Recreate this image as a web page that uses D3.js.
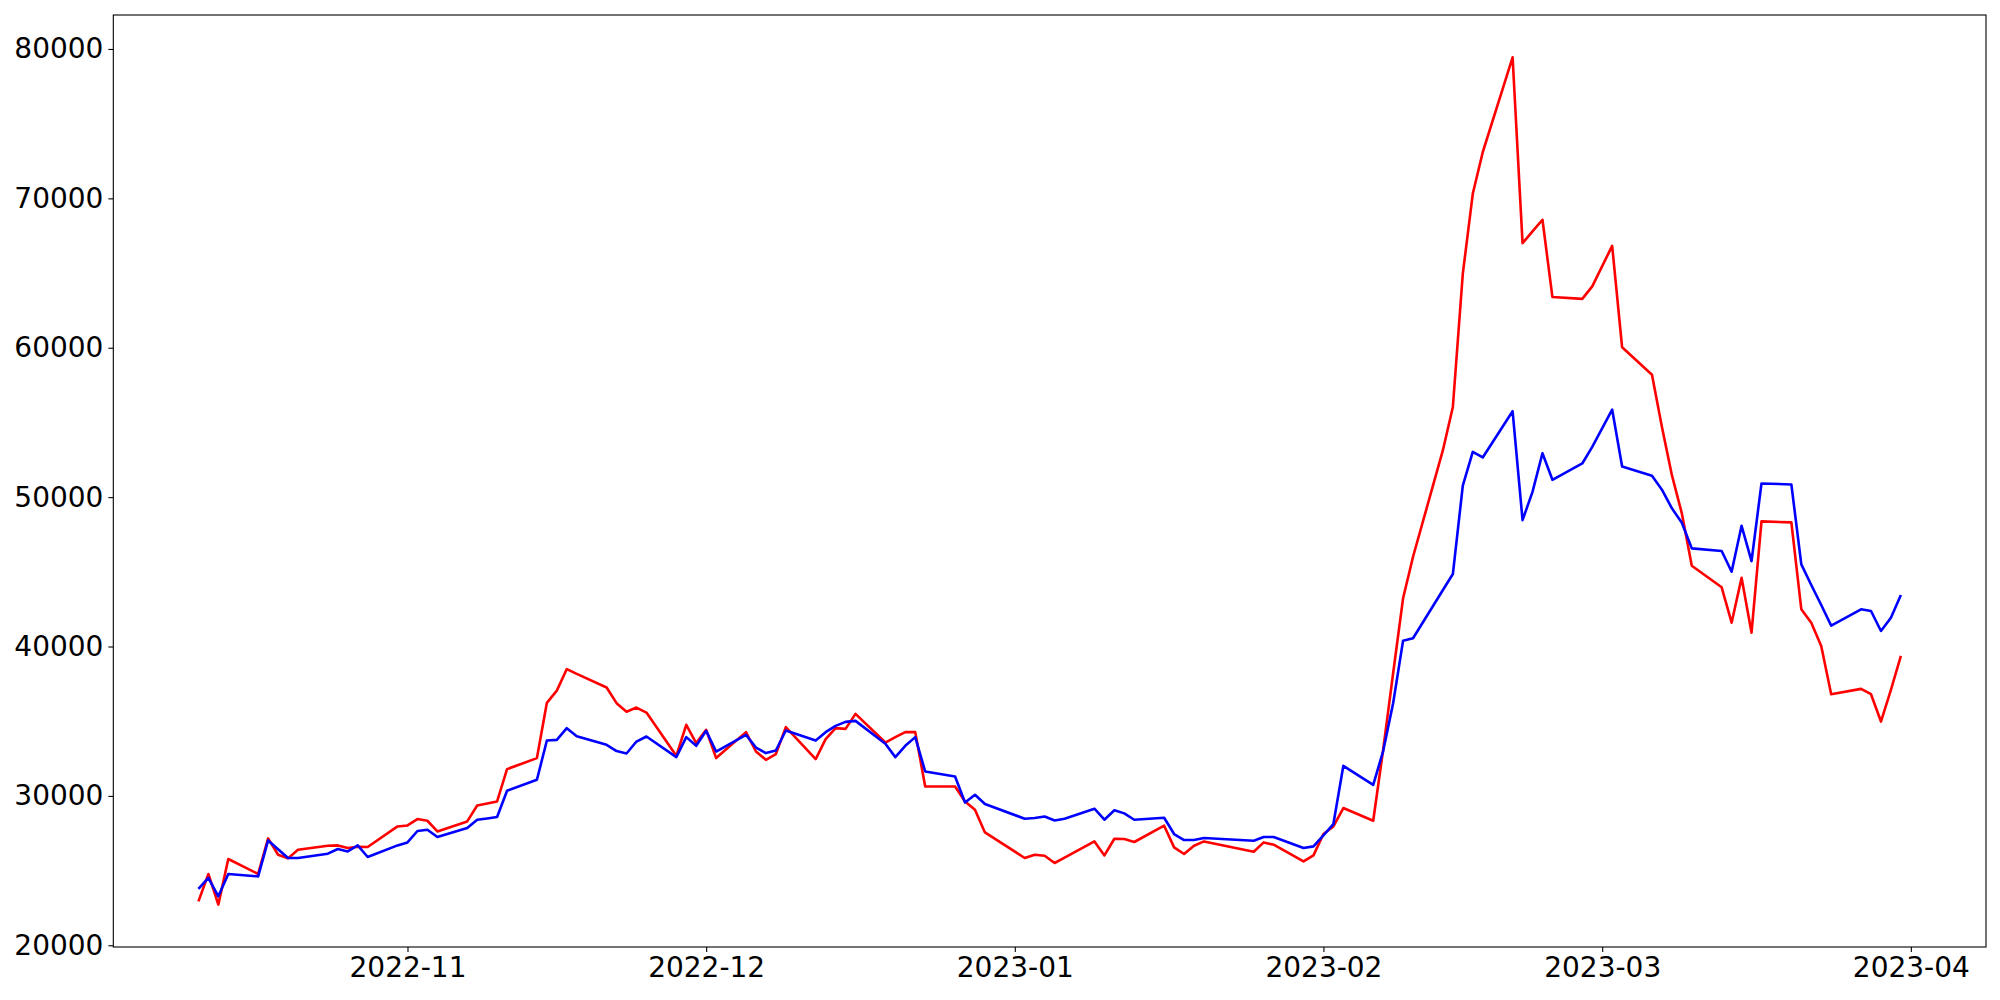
<!DOCTYPE html>
<html>
<head>
<meta charset="utf-8">
<script src="https://cdn.jsdelivr.net/npm/d3@7"></script>
<style>
  body { margin: 0; background: #fff; }
  svg text { font-family: "DejaVu Sans", sans-serif; }
</style>
</head>
<body>
<svg width="2000" height="1000"></svg>
<script>
var dates = [
  "2022-10-11","2022-10-12","2022-10-13","2022-10-14","2022-10-17","2022-10-18","2022-10-19","2022-10-20","2022-10-21",
  "2022-10-24","2022-10-25","2022-10-26","2022-10-27","2022-10-28","2022-10-31","2022-11-01","2022-11-02","2022-11-03",
  "2022-11-04","2022-11-07","2022-11-08","2022-11-09","2022-11-10","2022-11-11","2022-11-14","2022-11-15","2022-11-16",
  "2022-11-17","2022-11-18","2022-11-21","2022-11-22","2022-11-23","2022-11-24","2022-11-25","2022-11-28","2022-11-29",
  "2022-11-30","2022-12-01","2022-12-02","2022-12-05","2022-12-06","2022-12-07","2022-12-08","2022-12-09","2022-12-12",
  "2022-12-13","2022-12-14","2022-12-15","2022-12-16","2022-12-19","2022-12-20","2022-12-21","2022-12-22","2022-12-23",
  "2022-12-26","2022-12-27","2022-12-28","2022-12-29","2023-01-02","2023-01-03","2023-01-04","2023-01-05","2023-01-06",
  "2023-01-09","2023-01-10","2023-01-11","2023-01-12","2023-01-13","2023-01-16","2023-01-17","2023-01-18","2023-01-19",
  "2023-01-20","2023-01-25","2023-01-26","2023-01-27","2023-01-30","2023-01-31","2023-02-01","2023-02-02","2023-02-03",
  "2023-02-06","2023-02-07","2023-02-08","2023-02-09","2023-02-10","2023-02-13","2023-02-14","2023-02-15","2023-02-16",
  "2023-02-17","2023-02-20","2023-02-21","2023-02-22","2023-02-23","2023-02-24","2023-02-27","2023-02-28","2023-03-02",
  "2023-03-03","2023-03-06","2023-03-07","2023-03-08","2023-03-09","2023-03-10","2023-03-13","2023-03-14","2023-03-15",
  "2023-03-16","2023-03-17","2023-03-20","2023-03-21","2023-03-22","2023-03-23","2023-03-24","2023-03-27","2023-03-28",
  "2023-03-29","2023-03-30","2023-03-31"
];

var redValues = [
  22942,24774,22721,25777,24774,27154,26064,25817,26399,
  26666,26686,26512,26599,26579,27956,28023,28451,28337,
  27622,28291,29360,29494,29628,31794,32530,36230,37049,
  38490,38166,37260,36207,35635,35913,35578,32680,34756,
  33532,34422,32530,34268,32971,32416,32797,34602,32463,
  33800,34535,34488,35492,33573,33934,34268,34268,30631,
  30631,29628,29073,27555,25843,26064,25997,25509,25870,
  26953,26017,27134,27114,26913,28003,26552,26111,26666,
  26953,26265,26887,26733,25616,26017,27448,27956,29187,
  28337,33100,38213,43227,46009,53143,56037,64957,70305,
  73087,79438,67003,67785,68567,63392,63270,64107,66820,
  60030,58190,54700,51471,48910,45407,43963,41596,44604,
  40927,48376,48309,42492,41596,40038,36809,37163,36809,
  34977,37096,39369
];

var blueValues = [
  23771,24506,23276,24774,24613,27020,26432,25843,25843,
  26131,26445,26285,26686,25910,26686,26887,27649,27736,
  27248,27849,28404,28491,28585,30343,31079,33706,33753,
  34535,33990,33419,33000,32840,33639,33974,32600,33934,
  33352,34355,32971,34087,33238,32864,33038,34375,33706,
  34268,34689,34957,35023,33486,32596,33352,33934,31634,
  31299,29561,30076,29454,28471,28518,28625,28358,28471,
  29140,28404,29040,28830,28404,28538,27448,27047,27047,
  27181,27000,27248,27248,26512,26619,27355,28117,32015,
  30744,33000,36200,40392,40553,43782,44852,50770,53029,
  52655,55750,48462,50354,52940,51160,52253,53363,55864,
  52050,51424,50500,49250,48282,46570,46390,45006,48081,
  45721,50916,50849,45500,44116,42779,41395,42492,42378,
  41041,41930,43448
];

var yTicks = [20000, 30000, 40000, 50000, 60000, 70000, 80000];

var svg = d3.select("svg"),
    width = +svg.attr("width"),
    height = +svg.attr("height");

var plot = { left: 113.3, right: 1986, top: 15, bottom: 947 };
var fontSize = 28;
var tickLen = 4.9;

var parseDate = d3.utcParse("%Y-%m-%d");
var series = [
  { name: "red", color: "#ff0000", values: redValues },
  { name: "blue", color: "#0000ff", values: blueValues }
];
series.forEach(function(s) {
  s.points = dates.map(function(d, i) { return { date: parseDate(d), value: s.values[i] }; });
});

// matplotlib style 5% margins
var xExt = d3.extent(dates, parseDate);
var xPad = (xExt[1] - xExt[0]) * 0.05;
var allValues = redValues.concat(blueValues);
var yExt = d3.extent(allValues);
var yPad = (yExt[1] - yExt[0]) * 0.05;

var x = d3.scaleUtc()
    .domain([new Date(+xExt[0] - xPad), new Date(+xExt[1] + xPad)])
    .range([plot.left, plot.right]);

var y = d3.scaleLinear()
    .domain([yExt[0] - yPad, yExt[1] + yPad])
    .range([plot.bottom, plot.top]);

var line = d3.line()
    .x(function(d) { return x(d.date); })
    .y(function(d) { return y(d.value); });

svg.append("g")
    .attr("class", "lines")
  .selectAll("path")
  .data(series)
  .enter().append("path")
    .attr("d", function(s) { return line(s.points); })
    .attr("fill", "none")
    .attr("stroke", function(s) { return s.color; })
    .attr("stroke-width", 2.6)
    .attr("stroke-linejoin", "round");

// x axis
var xAxis = d3.axisBottom(x)
    .ticks(d3.utcMonth.every(1))
    .tickFormat(d3.utcFormat("%Y-%m"))
    .tickSizeInner(tickLen)
    .tickSizeOuter(0)
    .tickPadding(5);

var gx = svg.append("g")
    .attr("transform", "translate(0," + plot.bottom + ")")
    .call(xAxis);
gx.select(".domain").remove();
gx.selectAll(".tick line").attr("stroke", "#000").attr("stroke-width", 1.1);
gx.selectAll(".tick text")
    .attr("fill", "#000")
    .style("font-size", fontSize + "px")
    .style("font-family", "DejaVu Sans");

// y axis
var yAxis = d3.axisLeft(y)
    .tickValues(yTicks)
    .tickFormat(d3.format("d"))
    .tickSizeInner(tickLen)
    .tickSizeOuter(0)
    .tickPadding(5);

var gy = svg.append("g")
    .attr("transform", "translate(" + plot.left + ",0)")
    .call(yAxis);
gy.select(".domain").remove();
gy.selectAll(".tick line").attr("stroke", "#000").attr("stroke-width", 1.1);
gy.selectAll(".tick text")
    .attr("fill", "#000")
    .style("font-size", fontSize + "px")
    .style("font-family", "DejaVu Sans");

// frame
svg.append("rect")
    .attr("x", plot.left)
    .attr("y", plot.top)
    .attr("width", plot.right - plot.left)
    .attr("height", plot.bottom - plot.top)
    .attr("fill", "none")
    .attr("stroke", "#000")
    .attr("stroke-width", 1.1);
</script>
</body>
</html>
